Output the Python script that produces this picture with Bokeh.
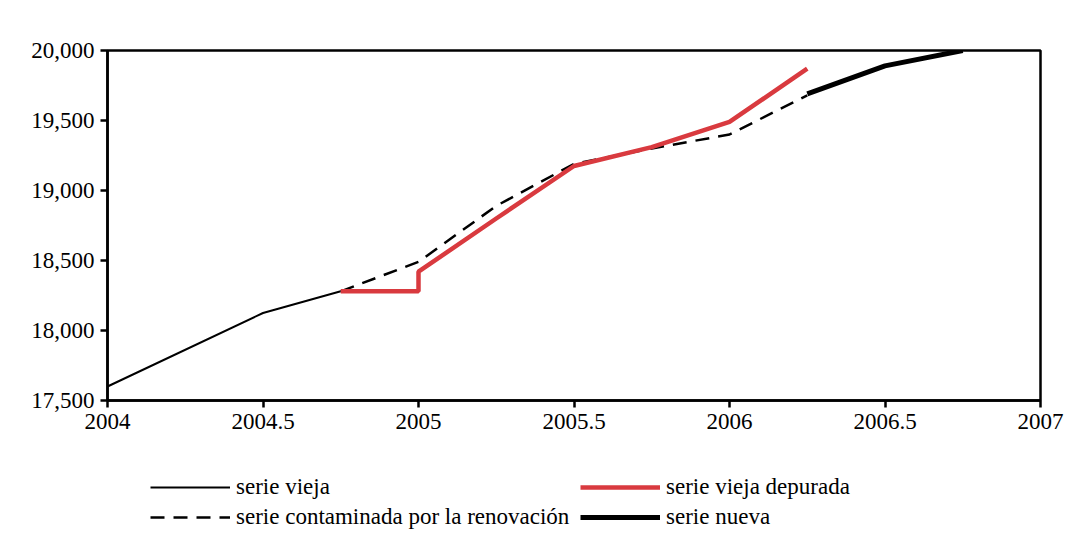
from bokeh.plotting import figure
from bokeh.layouts import column
from bokeh.models import Legend, LegendItem, FixedTicker, NumeralTickFormatter, Range1d
from bokeh.embed import file_html
from bokeh.resources import INLINE

# Data
vieja_x = [2004.0, 2004.5, 2004.75]
vieja_y = [17600, 18125, 18280]

contam_x = [2004.75, 2005.0, 2005.25, 2005.5, 2005.75, 2006.0, 2006.25]
contam_y = [18280, 18490, 18890, 19190, 19300, 19400, 19680]

depurada_x = [2004.75, 2005.0, 2005.0, 2005.25, 2005.5, 2005.75, 2006.0, 2006.25]
depurada_y = [18280, 18280, 18420, 18800, 19175, 19310, 19490, 19870]

nueva_x = [2006.25, 2006.5, 2006.75]
nueva_y = [19690, 19890, 20000]

x_ticks = [2004, 2004.5, 2005, 2005.5, 2006, 2006.5, 2007]
x_tick_labels = ["2004", "2004.5", "2005", "2005.5", "2006", "2006.5", "2007"]
y_ticks = [17500, 18000, 18500, 19000, 19500, 20000]

labels = ["serie vieja", "serie vieja depurada",
          "serie contaminada por la renovación", "serie nueva"]

FONT = "Liberation Serif"
RED = "#d93a3f"

styles = {
    "vieja": dict(line_color="black", line_width=2),
    "contam": dict(line_color="black", line_width=2.5, line_dash="14 9"),
    "dep": dict(line_color=RED, line_width=4.5),
    "nueva": dict(line_color="black", line_width=5),
}

p = figure(width=1064, height=450, output_backend="svg", toolbar_location=None,
           x_range=Range1d(2004, 2007), y_range=Range1d(17500, 20000),
           min_border_left=107, min_border_right=24, min_border_top=50,
           min_border_bottom=50)
p.grid.visible = False
p.outline_line_color = "black"
p.outline_line_width = 2.5

p.line(vieja_x, vieja_y, **styles["vieja"])
p.line(contam_x, contam_y, **styles["contam"])
p.line(depurada_x, depurada_y, **styles["dep"])
p.line(nueva_x, nueva_y, **styles["nueva"])

for ax in (p.xaxis[0], p.yaxis[0]):
    ax.axis_line_width = 2.5
    ax.major_tick_line_width = 2.5
    ax.major_tick_out = 7
    ax.major_tick_in = 0
    ax.minor_tick_line_color = None
    ax.major_label_text_font = FONT
    ax.major_label_text_font_size = "23px"
    ax.major_label_text_color = "black"
    ax.major_label_standoff = 6

p.xaxis.ticker = FixedTicker(ticks=x_ticks)
p.xaxis.major_label_overrides = {t: l for t, l in zip(x_ticks, x_tick_labels)}
p.yaxis.ticker = FixedTicker(ticks=y_ticks)
p.yaxis.formatter = NumeralTickFormatter(format="0,0")

# Legend panel below the chart (its frame is aligned with the chart's frame)
q = figure(width=1064, height=84, output_backend="svg", toolbar_location=None,
           x_range=Range1d(0, 1), y_range=Range1d(0, 1),
           min_border_left=0, min_border_right=0, min_border_top=0,
           min_border_bottom=0)
q.axis.visible = False
q.grid.visible = False
q.outline_line_color = None
far = ([-10, -9], [-10, -9])
lr_vieja = q.line(*far, **styles["vieja"])
lr_contam = q.line(*far, **styles["contam"])
lr_dep = q.line(*far, **styles["dep"])
lr_nueva = q.line(*far, **styles["nueva"])

legend = Legend(items=[
    LegendItem(label=labels[0], renderers=[lr_vieja]),
    LegendItem(label=labels[2], renderers=[lr_contam]),
    LegendItem(label=labels[1], renderers=[lr_dep]),
    LegendItem(label=labels[3], renderers=[lr_nueva]),
], ncols=2, location=(43, 4), orientation="vertical")
legend.border_line_color = None
legend.background_fill_alpha = 0
legend.padding = 0
legend.margin = 0
legend.spacing = 4
legend.glyph_width = 80
legend.glyph_height = 20
legend.label_height = 20
legend.label_width = 340
legend.label_standoff = 6
legend.label_text_font = FONT
legend.label_text_font_size = "23px"
legend.label_text_color = "black"
q.add_layout(legend, "center")

layout = column(p, q, spacing=0)
open("out.html", "w").write(file_html(layout, INLINE))
